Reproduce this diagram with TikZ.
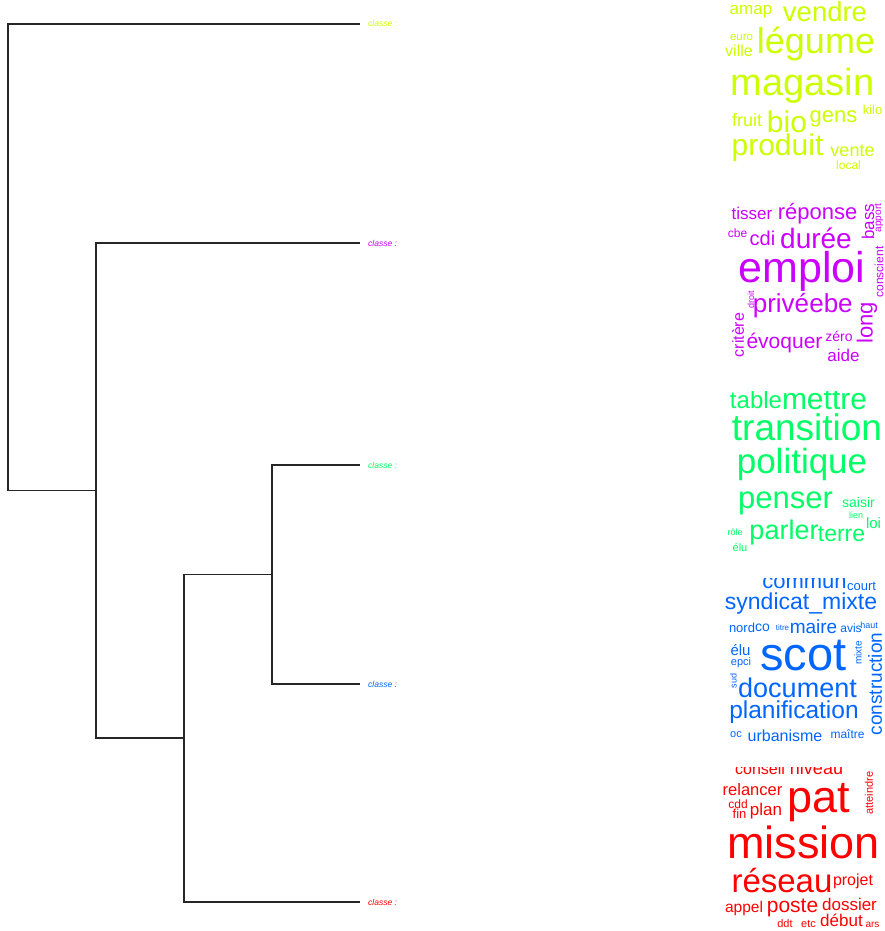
\documentclass[tikz,border=0pt]{standalone}
\usepackage{fontspec}
\setmainfont{Liberation Sans}
\definecolor{ClassOne}{HTML}{CCFF00}
\definecolor{ClassTwo}{HTML}{CC00FF}
\definecolor{ClassThree}{HTML}{00FF66}
\definecolor{ClassFour}{HTML}{0066FF}
\definecolor{ClassFive}{HTML}{FF0000}
\usepackage{tikz}

\begin{document}
\begin{tikzpicture}[x=1pt,y=-1pt,
      word/.style={anchor=base,inner sep=0pt,outer sep=0pt},
      sz/.style={font=\fontsize{#1}{#1}\selectfont},
      rot/.style={rotate=90,anchor=center},
      cone/.style={word,text=ClassOne},
      ctwo/.style={word,text=ClassTwo},
      cthree/.style={word,text=ClassThree},
      cfour/.style={word,text=ClassFour},
      cfive/.style={word,text=ClassFive},
      lab/.style={anchor=base west,inner sep=0pt,font=\fontsize{8.5}{8.5}\selectfont\itshape},
      branch/.style={draw=black!85,line width=1.5pt}]
    \useasboundingbox[fill=white] (0,0) rectangle (884,931);
    % dendrogram
    \coordinate (l1) at (360,24);
    \coordinate (l2) at (360,243);
    \coordinate (l3) at (360,465);
    \coordinate (l4) at (360,684);
    \coordinate (l5) at (360,902);
    \coordinate (n4) at (272,574.5);
    \coordinate (n3) at (184,738);
    \coordinate (n2) at (96,490.5);
    \coordinate (n1) at (8,257);
    \foreach \x/\y in {n1/l1,n1/n2,n2/l2,n2/n3,n3/n4,n3/l5,n4/l3,n4/l4}
      \draw[branch] (\x) |- (\y);
    \node[lab,text=ClassOne] (k1) at (368,27) {classe :};
    \node[lab,text=ClassTwo] (k2) at (368,246) {classe :};
    \node[lab,text=ClassThree] (k3) at (368,468) {classe :};
    \node[lab,text=ClassFour] (k4) at (368,687) {classe :};
    \node[lab,text=ClassFive] (k5) at (368,905) {classe :};
    % cloud 1
    \begin{scope}
      \clip (715,0) rectangle (884,190);
      \node[cone,sz=17] (a1) at (751,15) {amap};
      \node[cone,sz=27.5] (a2) at (825,22) {vendre};
      \node[cone,sz=11.5] (a3) at (741.5,41) {euro};
      \node[cone,sz=16] (a4) at (739,57) {ville};
      \node[cone,sz=36] (a5) at (816,54) {légume};
      \node[cone,sz=38] (a6) at (802.5,96) {magasin};
      \node[cone,sz=18] (a7) at (747,127) {fruit};
      \node[cone,sz=30] (a8) at (787,132) {bio};
      \node[cone,sz=22] (a9) at (833.5,122) {gens};
      \node[cone,sz=13] (a10) at (872.5,114) {kilo};
      \node[cone,sz=30] (a11) at (777.5,155) {produit};
      \node[cone,sz=18] (a12) at (852.5,156) {vente};
      \node[cone,sz=12] (a13) at (848.5,169) {local};
    \end{scope}
    % cloud 2
    \begin{scope}
      \clip (715,199) rectangle (884,380);
      \node[ctwo,sz=17] (b1) at (752,219) {tisser};
      \node[ctwo,sz=22] (b2) at (817.5,219) {réponse};
      \node[ctwo,rot,sz=17] (b3) at (868,221.5) {bass};
      \node[ctwo,rot,sz=10] (b4) at (879,218) {apport};
      \node[ctwo,rot,sz=12] (b5) at (879,272) {conscient};
      \node[ctwo,sz=12] (b6) at (737.5,237) {cbe};
      \node[ctwo,sz=20] (b7) at (762.5,245) {cdi};
      \node[ctwo,sz=28] (b8) at (816,248) {durée};
      \node[ctwo,sz=43] (b9) at (802,282) {emploi};
      \node[ctwo,rot,sz=9] (b10) at (751,300) {droit};
      \node[ctwo,rot,sz=16] (b11) at (738,335) {critère};
      \node[ctwo,sz=26] (b12) at (781,312) {privé};
      \node[ctwo,sz=26] (b13) at (831,312) {ebe};
      \node[ctwo,rot,sz=22] (b14) at (867,323) {long};
      \node[ctwo,sz=14] (b15) at (839,341) {zéro};
      \node[ctwo,sz=21] (b16) at (784.5,348) {évoquer};
      \node[ctwo,sz=17] (b17) at (843.5,361) {aide};
    \end{scope}
    % cloud 3
    \begin{scope}
      \clip (715,391) rectangle (884,570);
      \node[cthree,sz=24] (c1) at (756,408) {table};
      \node[cthree,sz=30] (c2) at (824.5,409) {mettre};
      \node[cthree,sz=37] (c3) at (807,440) {transition};
      \node[cthree,sz=35] (c4) at (802,473) {politique};
      \node[cthree,sz=31] (c5) at (785.5,508) {penser};
      \node[cthree,sz=14] (c6) at (858.5,507) {saisir};
      \node[cthree,sz=9] (c7) at (856,518) {lien};
      \node[cthree,sz=15] (c8) at (873.5,528) {loi};
      \node[cthree,sz=9] (c9) at (735,535) {rôle};
      \node[cthree,sz=27] (c10) at (784,539) {parler};
      \node[cthree,sz=23] (c11) at (841.5,541) {terre};
      \node[cthree,sz=11] (c12) at (740,551) {élu};
    \end{scope}
    % cloud 4
    \begin{scope}
      \clip (715,578) rectangle (884,760);
      \node[cfour,sz=22] (d1) at (804.5,588) {commun};
      \node[cfour,sz=13] (d2) at (861.5,590) {court};
      \node[cfour,sz=23] (d3) at (801,609) {syndicat\_mixte};
      \node[cfour,sz=13] (d4) at (742,632) {nord};
      \node[cfour,sz=14] (d5) at (762.5,631) {co};
      \node[cfour,sz=8] (d6) at (782.5,630) {titre};
      \node[cfour,sz=19] (d7) at (813.5,633) {maire};
      \node[cfour,sz=12] (d8) at (851,632) {avis};
      \node[cfour,sz=9] (d9) at (869,628) {haut};
      \node[cfour,sz=15] (d10) at (740.5,655) {élu};
      \node[cfour,sz=11] (d11) at (741,665) {epci};
      \node[cfour,sz=47] (d12) at (803.5,670) {scot};
      \node[cfour,rot,sz=10] (d13) at (858,653) {mixte};
      \node[cfour,rot,sz=19] (d14) at (875,684) {construction};
      \node[cfour,rot,sz=9] (d15) at (733.5,681) {sud};
      \node[cfour,sz=27] (d16) at (797.5,697) {document};
      \node[cfour,sz=24.5] (d17) at (794,718) {planification};
      \node[cfour,sz=11] (d18) at (736,737) {oc};
      \node[cfour,sz=16] (d19) at (785,741) {urbanisme};
      \node[cfour,sz=12] (d20) at (847.5,738) {maître};
    \end{scope}
    % cloud 5
    \begin{scope}
      \clip (715,767) rectangle (884,931);
      \node[cfive,sz=16] (e1) at (760,774) {conseil};
      \node[cfive,sz=18] (e2) at (816.5,774) {niveau};
      \node[cfive,rot,sz=11] (e3) at (869,793) {atteindre};
      \node[cfive,sz=16.5] (e4) at (752.5,795) {relancer};
      \node[cfive,sz=45] (e5) at (819,812) {pat};
      \node[cfive,sz=12] (e6) at (738,808) {cdd};
      \node[cfive,sz=13] (e7) at (739.5,818) {fin};
      \node[cfive,sz=17] (e8) at (766,815) {plan};
      \node[cfive,sz=45] (e9) at (803.5,858) {mission};
      \node[cfive,sz=33] (e10) at (782,892) {réseau};
      \node[cfive,sz=16] (e11) at (853,885) {projet};
      \node[cfive,sz=15.5] (e12) at (744,912) {appel};
      \node[cfive,sz=21] (e13) at (792.5,912) {poste};
      \node[cfive,sz=17] (e14) at (849.5,910) {dossier};
      \node[cfive,sz=11] (e15) at (785,927) {ddt};
      \node[cfive,sz=11] (e16) at (808.5,927) {etc};
      \node[cfive,sz=17] (e17) at (841.5,926) {début};
      \node[cfive,sz=10] (e18) at (872.5,927) {ars};
    \end{scope}
  \end{tikzpicture}
\end{document}
